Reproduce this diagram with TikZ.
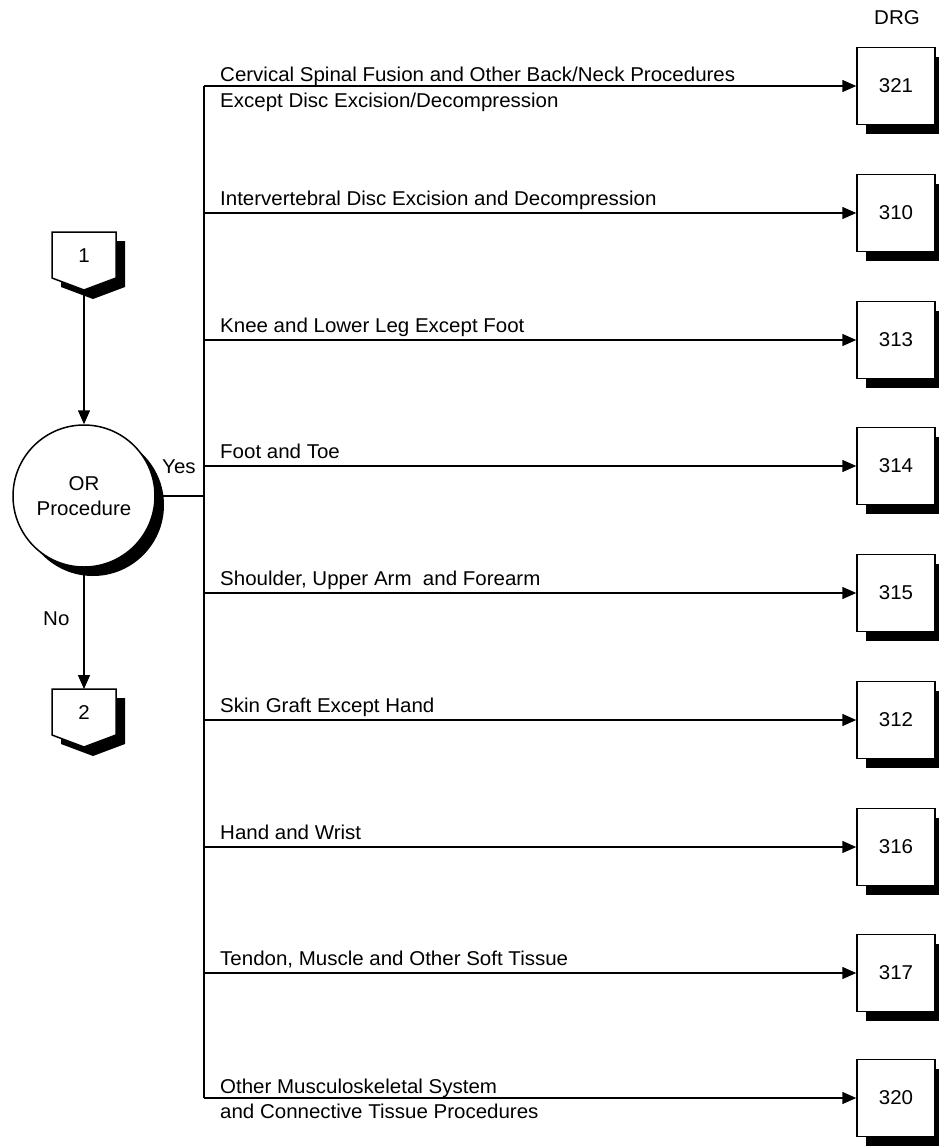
\documentclass[tikz,border=0pt]{standalone}
\usepackage{fontspec}
\setmainfont{Liberation Sans}[FakeStretch=1.025]
\usetikzlibrary{arrows.meta,shadows}
\begin{document}
\begin{tikzpicture}[x=1pt,y=-1pt,
  every node/.style={inner sep=0pt},
  lab/.style={anchor=base west, font=\fontsize{20}{23}\selectfont},
  num/.style={font=\fontsize{20}{23}\selectfont},
  link/.style={line width=1.5pt, -{Triangle[length=14pt,width=12pt]}},
  wire/.style={line width=1.5pt},
  hardshadow/.style={drop shadow={shadow xshift=9pt, shadow yshift=-9pt, opacity=1, fill=black}},
  drgbox/.style={draw, line width=1.5pt, fill=white, minimum width=78pt, minimum height=77pt,
    font=\fontsize{20}{23}\selectfont, hardshadow},
  decision/.style={circle, draw, line width=1.5pt, fill=white, minimum size=142pt, align=center,
    font=\fontsize{20}{25}\selectfont, hardshadow},
  offpage/.style={draw, line width=1.5pt, fill=white},
]
\useasboundingbox (0,0) rectangle (939,1146);

% column heading
\node[num, anchor=base] (drg) at (897,24) {DRG};

% off-page connector 1
\fill (61,241) -- (125,241) -- (125,287) -- (93,299) -- (61,287) -- cycle;
\draw[offpage] (52,232) -- (116,232) -- (116,278) -- (84,290) -- (52,278) -- cycle;
\node[num] (c1) at (84,256) {1};
\coordinate (c1tip) at (84,290);

% decision
\node[decision] (orq) at (84,496) {OR\\Procedure};

% off-page connector 2
\fill (61,698) -- (125,698) -- (125,744) -- (93,756) -- (61,744) -- cycle;
\draw[offpage] (52,689) -- (116,689) -- (116,735) -- (84,747) -- (52,735) -- cycle;
\node[num] (c2) at (84,713) {2};
\coordinate (c2top) at (84,689);

\draw[link] (c1tip) -- (orq.north);
\draw[link] (orq.south) -- (c2top);
\node[lab] (no) at (43,625) {No};

% yes branch and bus
\coordinate (yesj) at (204,496);
\draw[wire] (orq.east) -- (yesj);
\node[lab] (yes) at (162,473) {Yes};

\coordinate (b1) at (204,86);
\coordinate (b2) at (204,213);
\coordinate (b3) at (204,340);
\coordinate (b4) at (204,466);
\coordinate (b5) at (204,593);
\coordinate (b6) at (204,720);
\coordinate (b7) at (204,847);
\coordinate (b8) at (204,973);
\coordinate (b9) at (204,1098);
\draw[wire] (b1) -- (b9);

% DRG boxes
\node[drgbox] (d1) at (896,86) {321};
\node[drgbox] (d2) at (896,213) {310};
\node[drgbox] (d3) at (896,340) {313};
\node[drgbox] (d4) at (896,466) {314};
\node[drgbox] (d5) at (896,593) {315};
\node[drgbox] (d6) at (896,720) {312};
\node[drgbox] (d7) at (896,847) {316};
\node[drgbox] (d8) at (896,973) {317};
\node[drgbox] (d9) at (896,1098) {320};

\foreach \i in {1,...,9} {\draw[link] (b\i) -- (d\i.west);}

% branch labels
\node[lab] (l1a) at (220,81) {Cervical Spinal Fusion and Other Back/Neck Procedures};
\node[lab] (l1b) at (220,107) {Except Disc Excision/Decompression};
\node[lab] (l2) at (220,205) {Intervertebral Disc Excision and Decompression};
\node[lab] (l3) at (220,332) {Knee and Lower Leg Except Foot};
\node[lab] (l4) at (220,458) {Foot and Toe};
\node[lab] (l5) at (220,585) {Shoulder, Upper Arm\ \ and Forearm};
\node[lab] (l6) at (220,712) {Skin Graft Except Hand};
\node[lab] (l7) at (220,839) {Hand and Wrist};
\node[lab] (l8) at (220,965) {Tendon, Muscle and Other Soft Tissue};
\node[lab] (l9a) at (220,1093) {Other Musculoskeletal System};
\node[lab] (l9b) at (220,1118) {and Connective Tissue Procedures};
\end{tikzpicture}
\end{document}
